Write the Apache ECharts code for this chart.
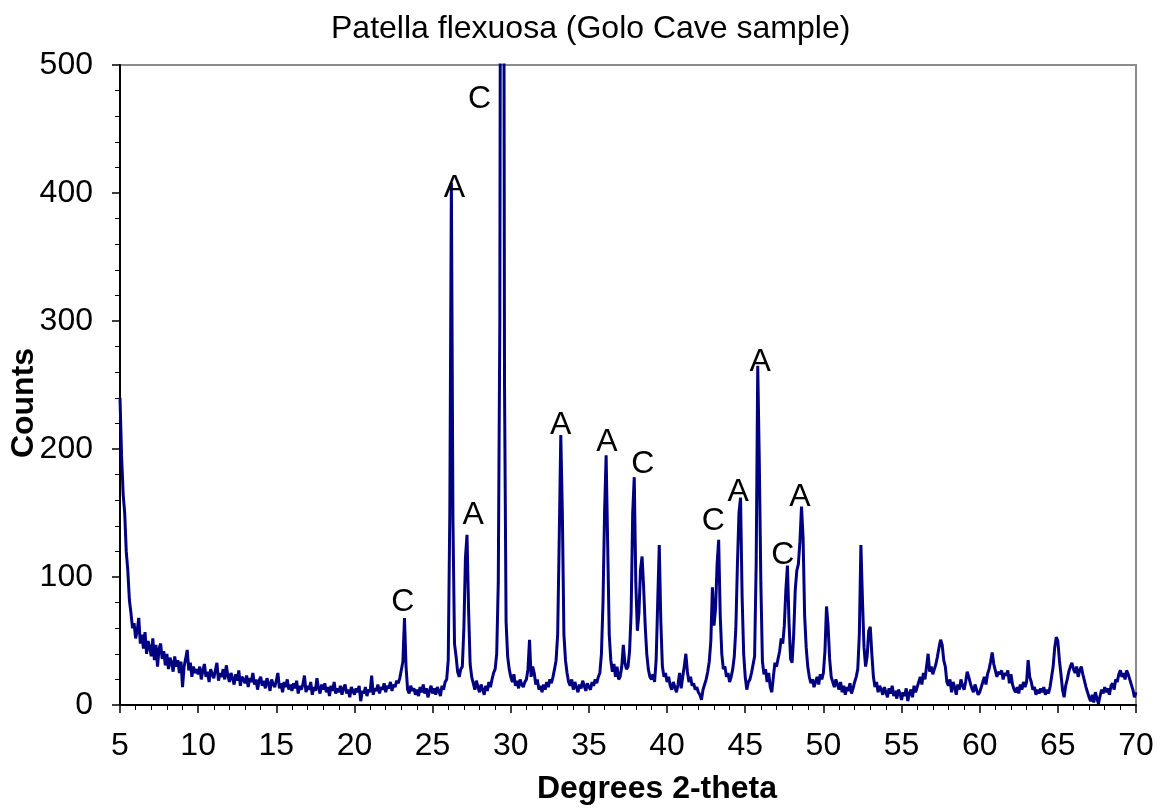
<!DOCTYPE html>
<html>
<head>
<meta charset="utf-8">
<script src="https://cdn.jsdelivr.net/npm/echarts@6/dist/echarts.min.js"></script>
<style>
  html, body { margin: 0; padding: 0; background: #fff; }
  #chart { width: 1160px; height: 809px; }
</style>
</head>
<body>
<div id="chart"></div>
<script>
// Scan parameters (degrees 2-theta)
const scanStep = 0.1;

// Counts, 0.1 degree apart
const countsStart5 = 5.0;
const countsFrom5 = [
  240, 195, 165, 150, 120, 105, 82, 72, 60, 64,
  52, 58, 68, 48, 55, 44, 57, 40, 50, 45,
  38, 52, 35, 47, 30, 44, 48, 36, 42, 31,
  40, 28, 37, 33, 26, 38, 30, 35, 25, 34,
  14, 30, 36, 43, 27, 33, 22, 30, 25, 28,
  24, 30, 20, 27, 32, 22, 26, 18, 28, 24,
  21, 27, 33, 19, 25, 22, 28, 20, 31, 23,
  18, 25, 21, 16, 24, 19, 27, 15, 22, 20,
  17, 23, 14, 21, 18, 25, 16, 20, 12, 19,
  22, 15, 19, 13, 21, 17, 11, 20, 16, 14,
  19, 25, 13, 17, 10, 18, 14, 20, 12, 16,
  11, 17, 13, 19, 9, 15, 12, 16, 23, 10,
  15, 12, 18, 8, 14, 11, 21, 13, 9, 16,
  12, 17, 10, 14, 7, 15, 11, 18, 9, 13,
  10, 15, 8, 13, 16, 9, 12, 6, 14, 11,
  8, 13, 10, 15, 3, 11, 9, 14, 7, 12,
  10, 23, 8, 13, 11, 16, 9, 14, 12, 17,
  10, 15, 13, 18, 11, 16, 14, 19, 17, 21,
  20, 34, 68, 30, 12, 9, 15, 11, 13, 8,
  12, 7, 14, 10, 16, 9, 13, 6, 11, 15
];

const countsStart25 = 25.0;
const countsFrom25 = [
  9, 13, 8, 14, 11, 7, 15, 12, 18, 20,
  35, 150, 408, 145, 48, 38, 26, 22, 28, 30,
  60, 115, 133, 75, 32, 22, 17, 12, 19, 14,
  10, 16, 12, 8, 15, 11, 18, 14, 20, 25,
  28, 40, 95, 300, 1100, 1050, 250, 65, 38, 28,
  22, 18, 24, 15, 19, 13, 20, 16, 14, 18,
  20, 28, 51, 22, 30, 25, 16, 20, 12, 15,
  10, 16, 12, 18, 14, 20, 17, 22, 28, 35,
  55, 130, 211, 150, 55, 35, 25, 18, 15, 20,
  12, 18, 14, 10, 16, 13, 19, 15, 11, 17,
  14, 12, 18, 15, 20, 17, 22, 25, 40, 80,
  150, 195, 125, 55, 35, 26, 32, 22, 30, 20,
  22, 30, 47, 33, 28, 30, 42, 72, 150, 178,
  95, 58, 72, 106, 116, 92, 62, 40, 28, 22,
  20, 24, 18, 35, 80, 125, 65, 30, 22, 25,
  18, 22, 15, 12, 18, 14, 10, 16, 25, 13,
  22, 30, 40, 26, 18, 22, 15, 17, 12, 14,
  10, 8, 4, 12, 16, 20, 26, 34, 50, 92,
  62, 75, 110, 129, 70, 40, 28, 30, 22, 25,
  18, 22, 28, 38, 60, 110, 150, 162, 85, 40
];

const countsStart45 = 45.0;
const countsFrom45 = [
  22, 12, 18, 20, 25, 24, 38, 110, 265, 190,
  95, 34, 24, 28, 18, 25, 14, 10, 22, 33,
  30, 36, 42, 52, 48, 62, 90, 109, 65, 36,
  33, 55, 90, 105, 110, 128, 155, 131, 70, 45,
  30, 22, 17, 20, 14, 18, 22, 16, 24, 20,
  25, 42, 77, 62, 36, 22, 18, 14, 20, 16,
  12, 18, 10, 15, 8, 14, 11, 17, 9, 13,
  18, 22, 28, 55, 125, 82, 45, 30, 38, 58,
  61, 40, 22, 14, 18, 10, 15, 12, 8, 14,
  10, 6, 13, 9, 15, 7, 11, 5, 12, 9,
  4, 10, 7, 13, 3, 9, 12, 6, 15, 10,
  14, 18, 22, 16, 25, 20, 30, 40, 26, 30,
  24, 28, 32, 38, 45, 51, 47, 35, 30, 18,
  15, 20, 10, 18, 14, 8, 16, 12, 20, 15,
  12, 18, 26, 22, 17, 13, 10, 16, 12, 8,
  10, 14, 18, 22, 16, 24, 28, 34, 41, 32,
  27, 22, 26, 24, 27, 20, 25, 23, 27, 17,
  24, 16, 12, 10, 14, 9, 16, 12, 18, 14,
  18, 35, 22, 18, 12, 14, 8, 12, 9, 13,
  10, 14, 8, 12, 9, 14, 22, 30, 45, 53,
  50, 35, 24, 12, 6, 15, 20, 26, 30, 33,
  28, 25, 30, 22, 27, 30, 24, 19, 14, 10,
  6, 3, 8, 2, 10, 5, 1, 7, 12, 9,
  14, 10, 13, 8, 15, 17, 12, 20, 18, 24,
  27, 22, 25, 20, 27, 24, 20, 16, 12, 6,
  10
];

// Peak annotations (phase letters)
const peakLabelText  = ['C', 'A', 'A', 'C', 'A', 'A', 'C', 'C', 'A', 'A', 'C', 'A'];
const peakLabelTheta = [23.1, 26.4, 27.6, 28.0, 33.2, 36.15, 38.45, 42.95, 44.55, 45.95, 47.4, 48.5];
const peakLabelCount = [80, 404, 148, 473, 219, 205, 188, 144, 166, 268, 117, 162];

// Axis ticks
const xTicks = { min: 5, max: 70, interval: 5 };
const yTicks = { min: 0, max: 500, interval: 100 };

function toPairs(start, arr) {
  return arr.map((c, i) => [Math.round((start + i * scanStep) * 10) / 10, c]);
}
const pattern = [].concat(
  toPairs(countsStart5, countsFrom5),
  toPairs(countsStart25, countsFrom25),
  toPairs(countsStart45, countsFrom45)
);
const labelData = peakLabelText.map((t, i) => ({ value: [peakLabelTheta[i], peakLabelCount[i]], name: t }));

const FONT = '"Liberation Sans", Arial, sans-serif';
const chart = echarts.init(document.getElementById('chart'), null, { renderer: 'canvas' });
chart.setOption({
  animation: false,
  backgroundColor: '#ffffff',
  title: {
    text: 'Patella flexuosa (Golo Cave sample)',
    left: 326,
    top: 8,
    textStyle: { fontFamily: FONT, fontSize: 32, fontWeight: 'normal', color: '#000' }
  },
  grid: {
    left: 120, right: 24, top: 65, bottom: 104,
    containLabel: false,
    outerBoundsMode: 'none',
    show: true, borderColor: '#8c8c8c', borderWidth: 2, backgroundColor: 'transparent'
  },
  xAxis: {
    type: 'value',
    min: xTicks.min, max: xTicks.max, interval: xTicks.interval,
    name: 'Degrees 2-theta',
    nameLocation: 'middle',
    nameGap: 68,
    nameTextStyle: { fontFamily: FONT, fontSize: 32, fontWeight: 'bold', color: '#000', padding: [0, 0, 0, 58] },
    axisLine: { show: true, onZero: false, lineStyle: { color: '#000', width: 2 } },
    axisTick: { show: true, inside: false, length: 8, lineStyle: { color: '#000', width: 1.5 } },
    minorTick: { show: true, splitNumber: 5, length: 5, lineStyle: { color: '#000', width: 1 } },
    axisLabel: { fontFamily: FONT, fontSize: 32, color: '#000', margin: 25 },
    splitLine: { show: false }
  },
  yAxis: {
    type: 'value',
    min: yTicks.min, max: yTicks.max, interval: yTicks.interval,
    name: 'Counts',
    nameLocation: 'middle',
    nameGap: 80,
    nameMoveOverlap: false,
    nameTextStyle: { fontFamily: FONT, fontSize: 32, fontWeight: 'bold', color: '#000', padding: [0, 36, 0, 0] },
    axisLine: { show: true, onZero: false, lineStyle: { color: '#000', width: 2 } },
    axisTick: { show: true, inside: false, length: 8, lineStyle: { color: '#000', width: 1.5 } },
    minorTick: { show: true, splitNumber: 5, length: 5, lineStyle: { color: '#000', width: 1 } },
    axisLabel: { fontFamily: FONT, fontSize: 32, color: '#000', margin: 27 },
    splitLine: { show: false }
  },
  series: [
    {
      type: 'line',
      data: pattern,
      showSymbol: false,
      symbol: 'none',
      clip: true,
      lineStyle: { color: '#000080', width: 3 },
      z: 2
    },
    {
      type: 'scatter',
      data: labelData,
      symbolSize: 0,
      symbol: 'circle',
      itemStyle: { color: 'rgba(0,0,0,0)', opacity: 1 },
      label: {
        show: true,
        position: 'inside',
        formatter: p => p.name,
        fontFamily: FONT,
        fontSize: 32,
        color: '#000',
        opacity: 1,
        textBorderWidth: 0,
        textBorderColor: 'transparent'
      },
      z: 3
    }
  ]
});
</script>
</body>
</html>
